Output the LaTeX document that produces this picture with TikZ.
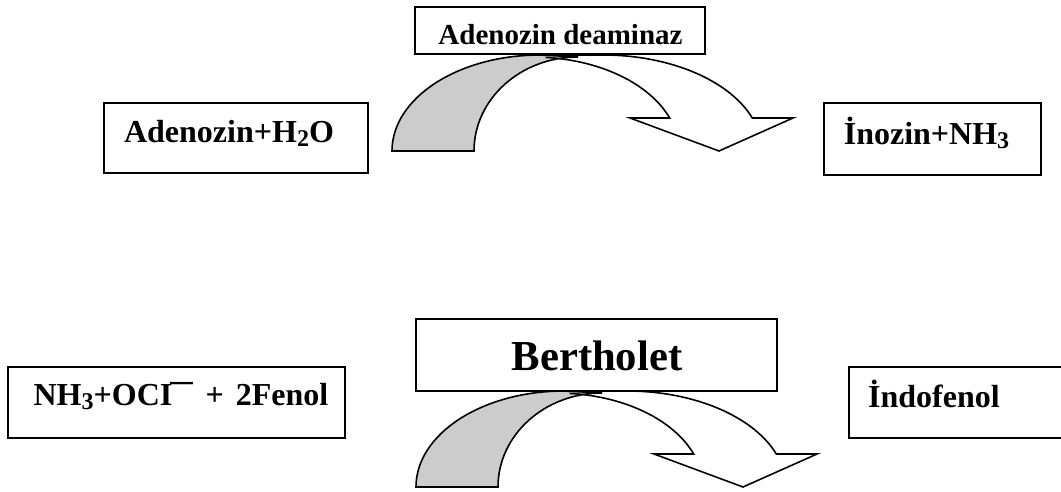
\documentclass[tikz,border=0pt]{standalone}
\usepackage{fontspec}
\setmainfont{Liberation Serif}
% chemical subscript: slightly lowered, fairly large digit
\newcommand\chemsub[1]{\raisebox{-4pt}{\fontsize{24}{24}\selectfont #1}}
\begin{document}
\begin{tikzpicture}[x=1pt,y=1pt,
  box/.style={draw=black, line width=1.6pt, fill=white, inner sep=0pt},
  lbl/.style={inner sep=0pt, anchor=base, font=\bfseries\fontsize{32}{36}\selectfont},
  bent/.style={draw=black, line width=1.6pt, line join=miter},
  back/.style={bent, fill=black!20}]
\useasboundingbox (0,0) rectangle (1061,-492);
\clip (0,0) rectangle (1061,-492);

% curved reaction arrows: shaded back band and the front band with its head
\foreach \dx/\dy in {0/0, 24/-336} {
  \begin{scope}[shift={(\dx,\dy)}]
    \path[back] (392,-151)
      arc[start angle=180, end angle=90, x radius=148pt, y radius=96pt]
      -- (578,-57)
      arc[start angle=90, end angle=180, x radius=104pt, y radius=94pt]
      -- cycle;
    \path[bent] (545.7,-57.4)
      arc[start angle=85, end angle=20.55, x radius=146pt, y radius=94pt]
      -- (630,-118) -- (719,-151) -- (793,-118) -- (752.3,-118)
      arc[start angle=20.1, end angle=90, x radius=159pt, y radius=96pt]
      -- (540,-55);
  \end{scope}
}

% first reaction
\node[box, minimum width=290pt, minimum height=47pt] (enzA) at (560,-30.5) {};
\node[lbl, font=\bfseries\fontsize{29}{33}\selectfont] (enzAtxt) at (560.5,-45) {Adenozin deaminaz};
\node[box, minimum width=264pt, minimum height=70pt] (subA) at (236,-138) {};
\node[lbl] (subAtxt) at (229,-143) {Adenozin+H\chemsub{2}O};
\node[box, minimum width=217pt, minimum height=72pt] (prodA) at (932.5,-139) {};
\node[lbl] (prodAtxt) at (926.5,-145) {İnozin+NH\chemsub{3}};

% second reaction
\node[box, minimum width=361pt, minimum height=72pt] (enzB) at (596.5,-355) {};
\node[lbl, font=\bfseries\fontsize{42.7}{48}\selectfont] (enzBtxt) at (597,-370) {Bertholet};
\node[box, minimum width=337pt, minimum height=71pt] (subB) at (176.5,-402.5) {};
\node[lbl] (subBtxt) at (181,-405) {NH\chemsub{3}+OCI\kern-2pt\raisebox{-1pt}{\scalebox{1.4}[1]{¯}}\hspace{5pt} +\hspace{4pt} 2Fenol};
\node[box, minimum width=231pt, minimum height=71pt] (prodB) at (964.5,-402.5) {};
\node[lbl] (prodBtxt) at (934,-407) {İndofenol};
\end{tikzpicture}
\end{document}
